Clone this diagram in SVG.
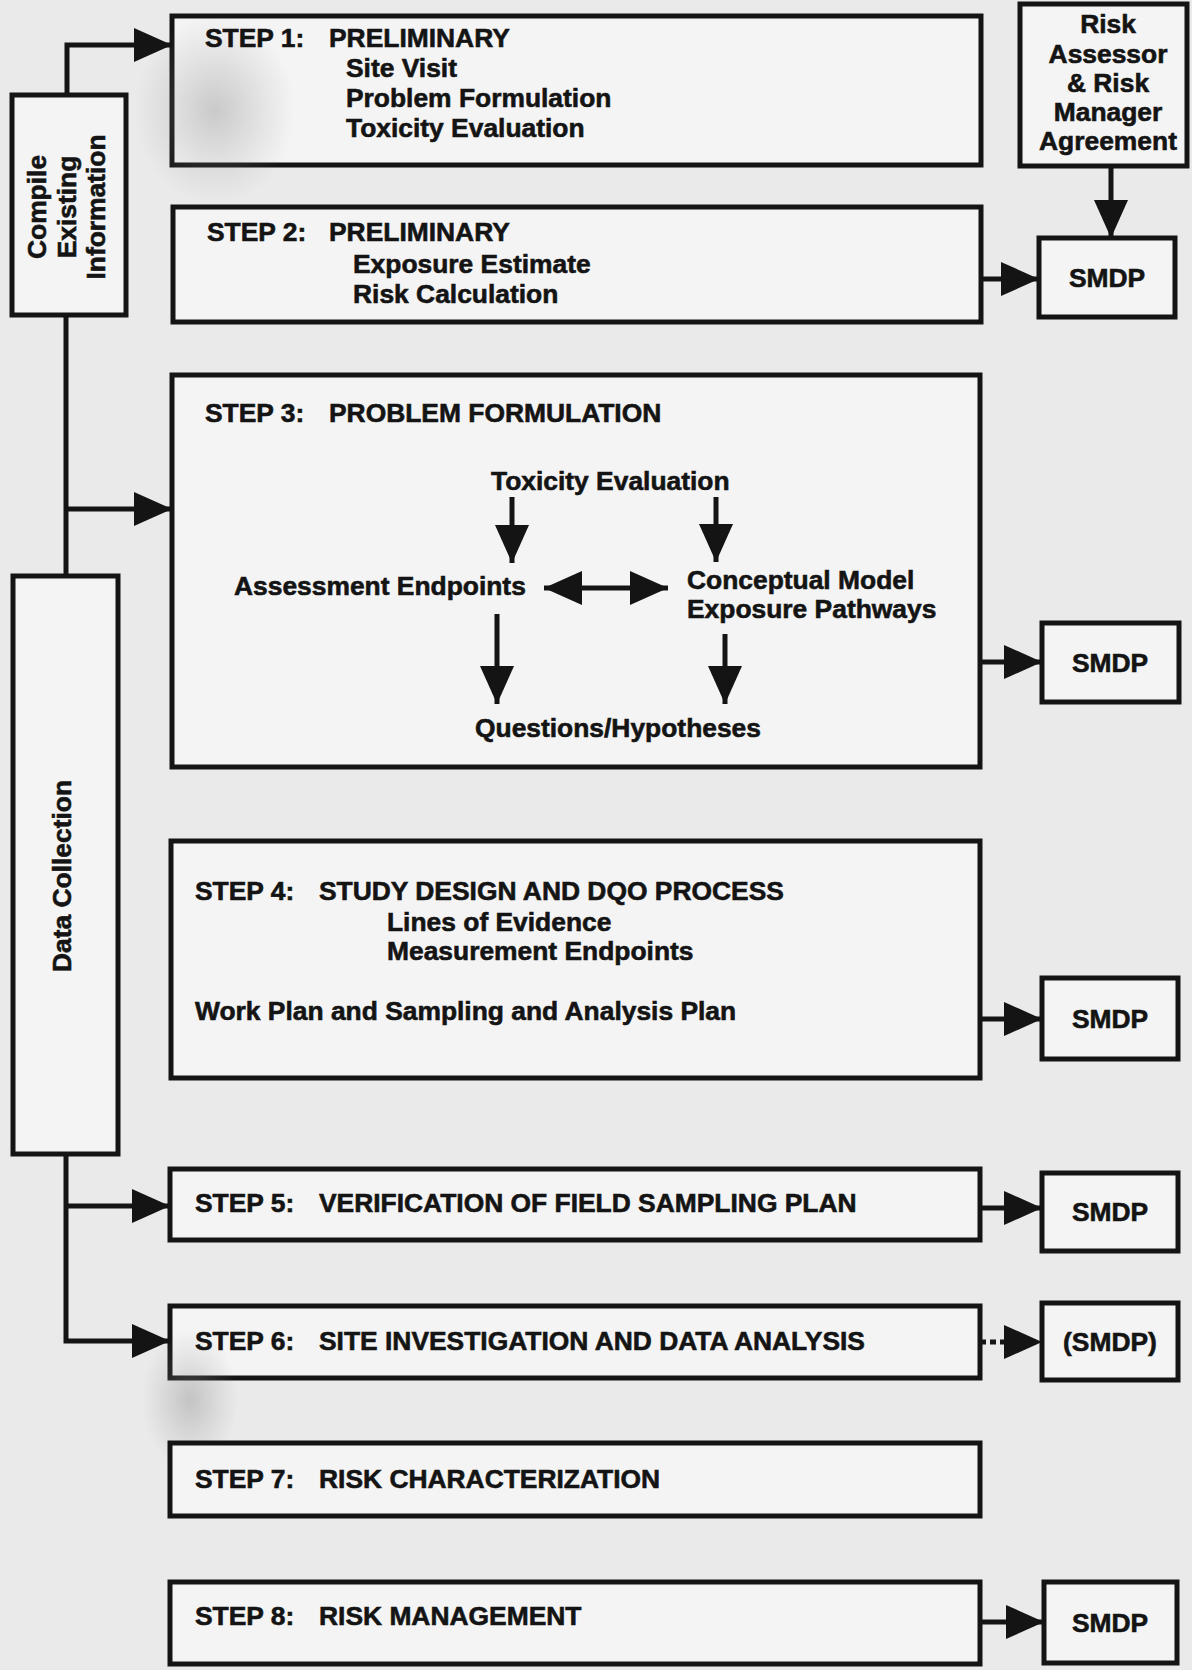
<svg xmlns="http://www.w3.org/2000/svg" width="1192" height="1670" viewBox="0 0 1192 1670">
<style>
.box{fill:#f4f4f4;stroke:#141414;stroke-width:5}
.t{font-family:"Liberation Sans",Arial,Helvetica,sans-serif;font-weight:bold;font-size:26.4px;fill:#141414;stroke:#141414;stroke-width:0.6}
.m{text-anchor:middle}
.ln{fill:none;stroke:#141414;stroke-width:5}
</style>
<defs>
<marker id="ah" markerUnits="userSpaceOnUse" markerWidth="38" markerHeight="34" viewBox="0 0 38 34" refX="38" refY="17" orient="auto-start-reverse">
<path d="M0,0 L38,17 L0,34 z" fill="#141414"/>
</marker>
<radialGradient id="smudge">
<stop offset="0" stop-color="#8a8a8a" stop-opacity="0.4"/>
<stop offset="0.6" stop-color="#8a8a8a" stop-opacity="0.15"/>
<stop offset="1" stop-color="#8a8a8a" stop-opacity="0"/>
</radialGradient>
</defs>
<rect x="0" y="0" width="1192" height="1670" fill="#eaeaea"/>

<g id="compile">
<rect class="box" x="12" y="95" width="114" height="220"/>
<text class="t m" transform="translate(46,207) rotate(-90)">Compile</text>
<text class="t m" transform="translate(76,207) rotate(-90)">Existing</text>
<text class="t m" transform="translate(105,207) rotate(-90)">Information</text>
</g>

<g id="datacollection">
<rect class="box" x="13" y="576" width="105" height="578"/>
<text class="t m" transform="translate(71,876) rotate(-90)">Data Collection</text>
</g>

<g id="step1">
<rect class="box" x="172" y="16" width="809" height="149"/>
<ellipse cx="215" cy="110" rx="80" ry="95" fill="url(#smudge)"/>
<text class="t" x="205" y="47">STEP 1:</text>
<text class="t" x="329" y="47">PRELIMINARY</text>
<text class="t" x="346" y="77">Site Visit</text>
<text class="t" x="346" y="107">Problem Formulation</text>
<text class="t" x="346" y="137">Toxicity Evaluation</text>
</g>

<g id="riskagreement">
<rect class="box" x="1020" y="4" width="167" height="162"/>
<text class="t m" x="1108" y="33">Risk</text>
<text class="t m" x="1108" y="63">Assessor</text>
<text class="t m" x="1108" y="92">&amp; Risk</text>
<text class="t m" x="1108" y="121">Manager</text>
<text class="t m" x="1108" y="150">Agreement</text>
</g>

<g id="step2">
<rect class="box" x="173" y="207" width="808" height="115"/>
<text class="t" x="207" y="241">STEP 2:</text>
<text class="t" x="329" y="241">PRELIMINARY</text>
<text class="t" x="353" y="273">Exposure Estimate</text>
<text class="t" x="353" y="303">Risk Calculation</text>
</g>

<g id="smdp1">
<rect class="box" x="1039" y="238" width="136" height="79"/>
<text class="t m" x="1107" y="287">SMDP</text>
</g>

<g id="step3">
<rect class="box" x="172" y="375" width="808" height="392"/>
<text class="t" x="205" y="422">STEP 3:</text>
<text class="t" x="329" y="422">PROBLEM FORMULATION</text>
<text class="t" x="491" y="490">Toxicity Evaluation</text>
<text class="t" x="234" y="595">Assessment Endpoints</text>
<text class="t" x="687" y="589">Conceptual Model</text>
<text class="t" x="687" y="618">Exposure Pathways</text>
<text class="t" x="475" y="737">Questions/Hypotheses</text>
</g>

<g id="smdp2">
<rect class="box" x="1042" y="623" width="137" height="79"/>
<text class="t m" x="1110" y="672">SMDP</text>
</g>

<g id="step4">
<rect class="box" x="171" y="841" width="809" height="237"/>
<text class="t" x="195" y="900">STEP 4:</text>
<text class="t" x="319" y="900">STUDY DESIGN AND DQO PROCESS</text>
<text class="t" x="387" y="931">Lines of Evidence</text>
<text class="t" x="387" y="960">Measurement Endpoints</text>
<text class="t" x="195" y="1020">Work Plan and Sampling and Analysis Plan</text>
</g>

<g id="smdp3">
<rect class="box" x="1042" y="978" width="136" height="81"/>
<text class="t m" x="1110" y="1028">SMDP</text>
</g>

<g id="step5">
<rect class="box" x="170" y="1169" width="810" height="71"/>
<text class="t" x="195" y="1212">STEP 5:</text>
<text class="t" x="319" y="1212">VERIFICATION OF FIELD SAMPLING PLAN</text>
</g>

<g id="smdp4">
<rect class="box" x="1042" y="1173" width="136" height="78"/>
<text class="t m" x="1110" y="1221">SMDP</text>
</g>

<g id="step6">
<rect class="box" x="170" y="1306" width="810" height="72"/>
<ellipse cx="190" cy="1400" rx="48" ry="70" fill="url(#smudge)"/>
<text class="t" x="195" y="1350">STEP 6:</text>
<text class="t" x="319" y="1350">SITE INVESTIGATION AND DATA ANALYSIS</text>
</g>

<g id="smdp5">
<rect class="box" x="1042" y="1303" width="136" height="77"/>
<text class="t m" x="1110" y="1351">(SMDP)</text>
</g>

<g id="step7">
<rect class="box" x="170" y="1443" width="810" height="73"/>
<text class="t" x="195" y="1488">STEP 7:</text>
<text class="t" x="319" y="1488">RISK CHARACTERIZATION</text>
</g>

<g id="step8">
<rect class="box" x="170" y="1582" width="810" height="82"/>
<text class="t" x="195" y="1625">STEP 8:</text>
<text class="t" x="319" y="1625">RISK MANAGEMENT</text>
</g>

<g id="smdp6">
<rect class="box" x="1044" y="1582" width="133" height="81"/>
<text class="t m" x="1110" y="1632">SMDP</text>
</g>

<g id="connectors">
<polyline class="ln" points="67,95 67,45 172,45" marker-end="url(#ah)"/>
<line class="ln" x1="66" y1="315" x2="66" y2="576"/>
<line class="ln" x1="66" y1="509" x2="172" y2="509" marker-end="url(#ah)"/>
<polyline class="ln" points="66,1154 66,1341 170,1341" marker-end="url(#ah)"/>
<line class="ln" x1="66" y1="1206" x2="170" y2="1206" marker-end="url(#ah)"/>
<line class="ln" x1="1111" y1="166" x2="1111" y2="238" marker-end="url(#ah)"/>
<line class="ln" x1="981" y1="279" x2="1039" y2="279" marker-end="url(#ah)"/>
<line class="ln" x1="980" y1="662" x2="1042" y2="662" marker-end="url(#ah)"/>
<line class="ln" x1="980" y1="1019" x2="1042" y2="1019" marker-end="url(#ah)"/>
<line class="ln" x1="980" y1="1208" x2="1042" y2="1208" marker-end="url(#ah)"/>
<line class="ln" x1="980" y1="1342" x2="1042" y2="1342" stroke-dasharray="6 4" marker-end="url(#ah)"/>
<line class="ln" x1="980" y1="1622" x2="1044" y2="1622" marker-end="url(#ah)"/>
<line class="ln" x1="512" y1="497" x2="512" y2="563" marker-end="url(#ah)"/>
<line class="ln" x1="716" y1="497" x2="716" y2="562" marker-end="url(#ah)"/>
<line class="ln" x1="544" y1="588" x2="668" y2="588" marker-start="url(#ah)" marker-end="url(#ah)"/>
<line class="ln" x1="497" y1="614" x2="497" y2="704" marker-end="url(#ah)"/>
<line class="ln" x1="725" y1="634" x2="725" y2="704" marker-end="url(#ah)"/>
</g>
</svg>
